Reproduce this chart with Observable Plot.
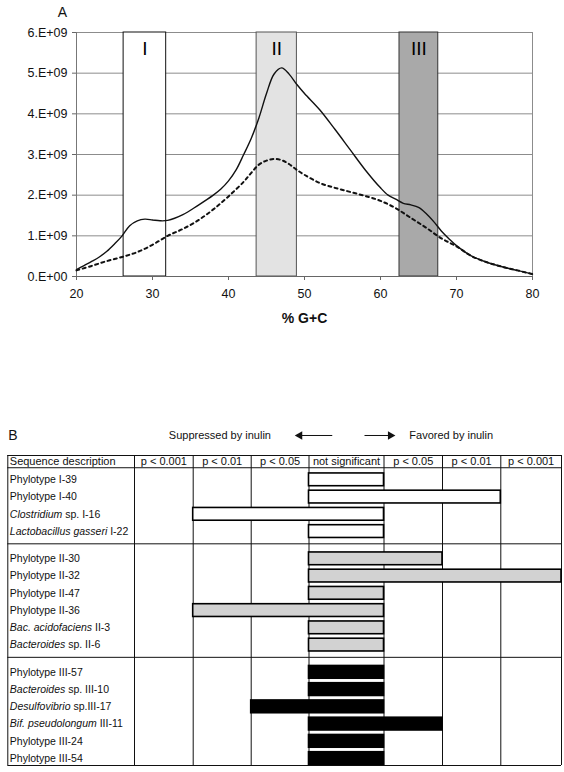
<!DOCTYPE html>
<html><head><meta charset="utf-8">
<script src="https://cdn.jsdelivr.net/npm/d3@7"></script>
<script src="https://cdn.jsdelivr.net/npm/@observablehq/plot@0.6"></script>
<style>
html,body{margin:0;padding:0;background:#fff;}
#a,#b{position:absolute;left:0;}
#a{top:0;} #b{top:420px;}
svg{overflow:visible;}
</style></head><body><div id="a"></div><div id="b"></div>
<script>
// ---------- Panel A data (values ×1e9) ----------
const solidGC = [20,21,22,23,24,25,26,27,28,29,30,31,32,34,36,38,39,40,41,42,43,44,45,46,47,48,49,50,52,54,56,58,60,61,62,63,64,65,66,67,68,69,70,72,74,76,78,80];
const solidValues = [0.17,0.27,0.37,0.48,0.62,0.80,1.0,1.25,1.37,1.41,1.39,1.37,1.38,1.52,1.75,2.0,2.15,2.35,2.62,3.0,3.4,3.9,4.5,4.98,5.13,4.97,4.72,4.50,4.10,3.62,3.12,2.62,2.18,2.0,1.90,1.80,1.76,1.70,1.55,1.35,1.12,0.93,0.76,0.50,0.35,0.24,0.15,0.06];
const dashedGC = [20,22,24,26,28,30,32,34,36,38,40,42,43,44,45,46,47,48,49,50,52,54,56,58,60,62,64,66,68,70,72,74,76,78,80];
const dashedValues = [0.15,0.26,0.38,0.48,0.6,0.78,1.0,1.17,1.38,1.65,1.97,2.33,2.55,2.75,2.85,2.89,2.86,2.76,2.62,2.5,2.3,2.18,2.08,1.98,1.86,1.68,1.44,1.2,0.94,0.74,0.5,0.35,0.24,0.15,0.06];
const regionNames = ["I","II","III"];
const regionFrom = [26.2, 43.7, 62.5];
const regionTo = [31.8, 49.0, 67.6];
const xTicks = [20,30,40,50,60,70,80];
const yTicks = [0,1,2,3,4,5,6];

// ---------- Panel B data ----------
const headerLabels = ["Sequence description","p < 0.001","p < 0.01","p < 0.05","not significant","p < 0.05","p < 0.01","p < 0.001"];
const rowItalic = ["","","Clostridium","Lactobacillus gasseri","","","","","Bac. acidofaciens","Bacteroides","","Bacteroides","Desulfovibrio","Bif. pseudolongum","",""];
const rowPlain = ["Phylotype I-39","Phylotype I-40"," sp. I-16"," I-22","Phylotype II-30","Phylotype II-32","Phylotype II-47","Phylotype II-36"," II-3"," sp. II-6","Phylotype III-57"," sp. III-10"," sp.III-17"," III-11","Phylotype III-24","Phylotype III-54"];
const rowGroup = ["I","I","I","I","II","II","II","II","II","II","III","III","III","III","III","III"];
// effect: negative = suppressed by inulin, positive = favored; 1 = p<0.05, 2 = p<0.01, 3 = p<0.001, 0 = not significant
const rowEffect = [0,2,-2,0,1,3,0,-2,0,0,0,0,-1,1,0,0];

// ---------- styles / layout ----------
const font = "'Liberation Sans', Arial, Helvetica, sans-serif";
const regionFill = {I:"#ffffff", II:"#e3e3e3", III:"#a9a9a9"};
const regionStroke = {I:"#111", II:"#555", III:"#333"};
const barFill = {I:"#ffffff", II:"#d2d2d2", III:"#000000"};
const gridGray = "#8c8c8c";

// ---------- Panel A ----------
const solid = solidGC.map((x,i)=>({x, y: solidValues[i]}));
const dashed = dashedGC.map((x,i)=>({x, y: dashedValues[i]}));
const regions = regionNames.map((name,i)=>({name, x1: regionFrom[i], x2: regionTo[i]}));

const chartA = Plot.plot({
  width: 564, height: 330,
  marginLeft: 76, marginRight: 32, marginTop: 32, marginBottom: 54,
  style: {fontFamily: font, fontSize: "12px", background: "white", color: "#111"},
  x: {domain: [20, 80]},
  y: {domain: [0, 6]},
  marks: [
    Plot.ruleY(yTicks, {stroke: gridGray, strokeWidth: 1}),
    Plot.rect(regions, {x1: "x1", x2: "x2", y1: 0, y2: 6, fill: d => regionFill[d.name], stroke: d => regionStroke[d.name], strokeWidth: 1}),
    Plot.ruleX([80], {stroke: gridGray}),
    Plot.ruleX([20], {stroke: "#777"}),
    Plot.ruleY([0], {stroke: "#666"}),
    Plot.line(dashed, {x: "x", y: "y", curve: "catmull-rom", stroke: "#111", strokeWidth: 2, strokeDasharray: "3,3.5"}),
    Plot.line(solid, {x: "x", y: "y", curve: "catmull-rom", stroke: "#111", strokeWidth: 1.4}),
    Plot.text(regions, {x: d => (d.x1 + d.x2) / 2, y: 6, dy: 16, text: "name", fontSize: 19, fill: "#000", lineAnchor: "middle"}),
    Plot.axisX({ticks: xTicks, tickSize: 4, tickPadding: 9, label: null, fontSize: 12.5, stroke: "#666"}),
    Plot.axisY({ticks: yTicks, tickSize: 4, tickPadding: 5, label: null, fontSize: 12.5, stroke: "#666",
      tickFormat: d => d === 0 ? "0.E+00" : d + ".E+09"}),
    Plot.text(["% G+C"], {frameAnchor: "bottom", dy: 42, fontWeight: "bold", fontSize: 14, textAnchor: "middle", lineAnchor: "middle"}),
    Plot.text(["A"], {frameAnchor: "top-left", dx: -14, dy: -19.5, fontSize: 14, textAnchor: "middle", lineAnchor: "middle"})
  ]
});
document.getElementById("a").append(chartA);

// ---------- Panel B ----------
const pitchPx = 17.25;           // row height in px
const groupGap = 10 / pitchPx;   // extra space between groups (in row units)
const groupIndex = {I: 0, II: 1, III: 2};
const rows = rowPlain.map((p,i)=>({
  italic: rowItalic[i], plain: p, group: rowGroup[i], effect: rowEffect[i],
  yc: i + groupIndex[rowGroup[i]] * groupGap
}));
const yTop = -1.41, yHeaderBottom = -0.70, yBottom = rows[rows.length-1].yc + 0.40;
const dividers = [1,2].map(g => {
  const last = rows.filter(r => groupIndex[r.group] === g-1).at(-1).yc;
  const first = rows.find(r => groupIndex[r.group] === g).yc;
  return (last + first) / 2 - 0.08;
});
const colWidths = [126.7, 58.7, 58, 57.8, 75, 58.5, 58.3, 60.7];
const xRange = colWidths.reduce((acc,w)=>(acc.push(acc.at(-1)+w), acc), [7.3]);
const headers = headerLabels.map((t,i)=>({t, i}));
const barHalf = 0.37;
const yHeader = (yTop + yHeaderBottom) / 2;
const yNote = -2.57;

const chartB = Plot.plot({
  width: 564, height: 352,
  marginLeft: 7, marginRight: 3, marginTop: 35, marginBottom: 7,
  style: {fontFamily: font, fontSize: "11px", background: "white", color: "#111"},
  x: {type: "linear", domain: d3.range(9), range: xRange, axis: null},
  y: {domain: [yTop, yBottom], range: [35, 345], axis: null},
  marks: [
    Plot.ruleX(d3.range(9), {y1: yTop, y2: yBottom, stroke: "#111", strokeWidth: 1}),
    Plot.ruleY([yTop, yHeaderBottom, ...dividers, yBottom], {x1: 0, x2: 8, stroke: "#111", strokeWidth: 1}),
    Plot.rect(rows, {
      x1: d => d.effect < 0 ? 4 + d.effect : 4,
      x2: d => d.effect > 0 ? 5 + d.effect : 5,
      y1: d => d.yc - barHalf, y2: d => d.yc + barHalf,
      fill: d => barFill[d.group], stroke: "#000", strokeWidth: 1.6
    }),
    Plot.text(headers.slice(0, 1), {x: 0, dx: 2, y: yHeader, text: "t", textAnchor: "start", fontSize: 11}),
    Plot.text(headers.slice(1), {x: d => d.i + 0.5, y: yHeader, text: "t", textAnchor: "middle", fontSize: 11}),
    Plot.text(rows, {x: 0, y: "yc", dx: 2, text: d => d.italic + d.plain, textAnchor: "start", fontSize: 10.5}),
    Plot.text(["B"], {x: 0, y: yNote, dx: 5, text: d => d, textAnchor: "middle", fontSize: 14}),
    Plot.text(["Suppressed by inulin"], {x: 2.46, y: yNote, text: d => d, textAnchor: "middle", fontSize: 11}),
    Plot.text(["Favored by inulin"], {x: 6.15, y: yNote, text: d => d, textAnchor: "middle", fontSize: 11}),
    Plot.link([{a: 4.31, b: 3.86}, {a: 4.74, b: 5.09}], {x1: "a", x2: "b", y1: yNote, y2: yNote, stroke: "#111", strokeWidth: 1}),
    Plot.dot([{x: 3.84, r: -90}, {x: 5.11, r: 90}], {x: "x", y: yNote, symbol: "triangle", rotate: "r", r: 3.2, fill: "#111", stroke: "none"})
  ]
});
// row labels: split italic species names from plain text
const labelMap = new Map(rows.map(r => [r.italic + r.plain, r]));
d3.select(chartB).selectAll("text").each(function(){
  const r = labelMap.get(this.textContent);
  if (!r || !r.italic) return;
  const t = d3.select(this);
  t.text(null).attr("xml:space", "preserve").style("white-space", "pre");
  t.append("tspan").attr("font-style", "italic").text(r.italic);
  t.append("tspan").text(r.plain);
});
document.getElementById("b").append(chartB);
</script>
</body></html>
